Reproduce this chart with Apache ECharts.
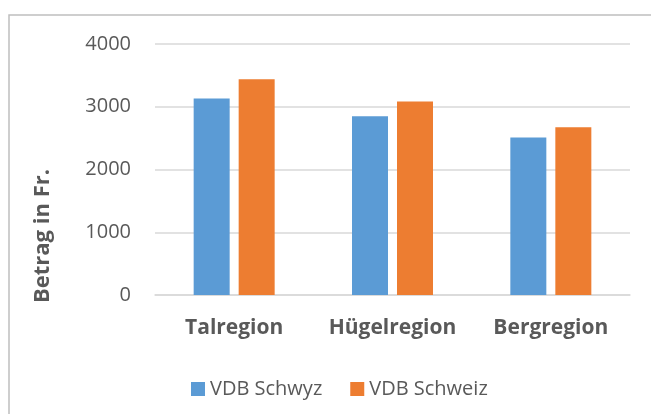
<!DOCTYPE html>
<html>
<head>
<meta charset="utf-8">
<script src="https://cdn.jsdelivr.net/npm/echarts@6/dist/echarts.min.js"></script>
<style>
  html, body { margin: 0; padding: 0; background: #fff; }
  #chart { width: 651px; height: 414px; }
</style>
</head>
<body>
<div id="chart"></div>
<script>
// Werte
const regions = ['Talregion', 'Hügelregion', 'Bergregion'];
const vdbSchwyz = [3130, 2850, 2510];
const vdbSchweiz = [3440, 3085, 2675];
const yTicks = { min: 0, max: 4000, interval: 1000 };

const textColor = '#595959';
const font = 'Open Sans';

let chart = echarts.init(document.getElementById('chart'));
let option = {
  animation: false,
  backgroundColor: '#fff',
  textStyle: { fontFamily: font },
  grid: {
    left: 155,
    right: 21,
    top: 44,
    bottom: 119
  },
  legend: {
    left: 186,
    top: 374,
    itemWidth: 14,
    itemHeight: 14,
    itemGap: 28,
    icon: 'rect',
    textStyle: { fontFamily: font, fontSize: 20, color: textColor },
    data: ['VDB Schwyz', 'VDB Schweiz']
  },
  xAxis: {
    type: 'category',
    data: regions,
    axisTick: { show: false },
    axisLine: { show: true, lineStyle: { color: '#d9d9d9', width: 1.5 } },
    axisLabel: {
      interval: 0,
      fontFamily: font,
      fontSize: 21,
      fontWeight: 'bold',
      color: textColor,
      margin: 23
    }
  },
  yAxis: {
    type: 'value',
    min: yTicks.min,
    max: yTicks.max,
    interval: yTicks.interval,
    axisLine: { show: false },
    axisTick: { show: false },
    splitLine: { lineStyle: { color: '#d9d9d9', width: 1.5 } },
    axisLabel: {
      formatter: (v) => String(v),
      fontFamily: font,
      fontSize: 20,
      color: textColor,
      margin: 24
    }
  },
  graphic: [
    {
      type: 'rect',
      silent: true,
      shape: { x: 9, y: 15, width: 700, height: 500 },
      style: { fill: null, stroke: '#bfbfbf', lineWidth: 1.5 }
    },
    {
      type: 'text',
      x: 43,
      y: 236,
      rotation: Math.PI / 2,
      style: {
        text: 'Betrag in Fr.',
        fontFamily: font,
        fontSize: 22,
        fontWeight: 'bold',
        fill: textColor,
        align: 'center',
        verticalAlign: 'middle'
      }
    }
  ],
  series: [
    {
      name: 'VDB Schwyz',
      type: 'bar',
      barWidth: 36,
      barGap: '25%',
      itemStyle: { color: '#5B9BD5' },
      data: vdbSchwyz
    },
    {
      name: 'VDB Schweiz',
      type: 'bar',
      barWidth: 36,
      itemStyle: { color: '#ED7D31' },
      data: vdbSchweiz
    }
  ]
};
chart.setOption(option);
</script>
</body>
</html>
